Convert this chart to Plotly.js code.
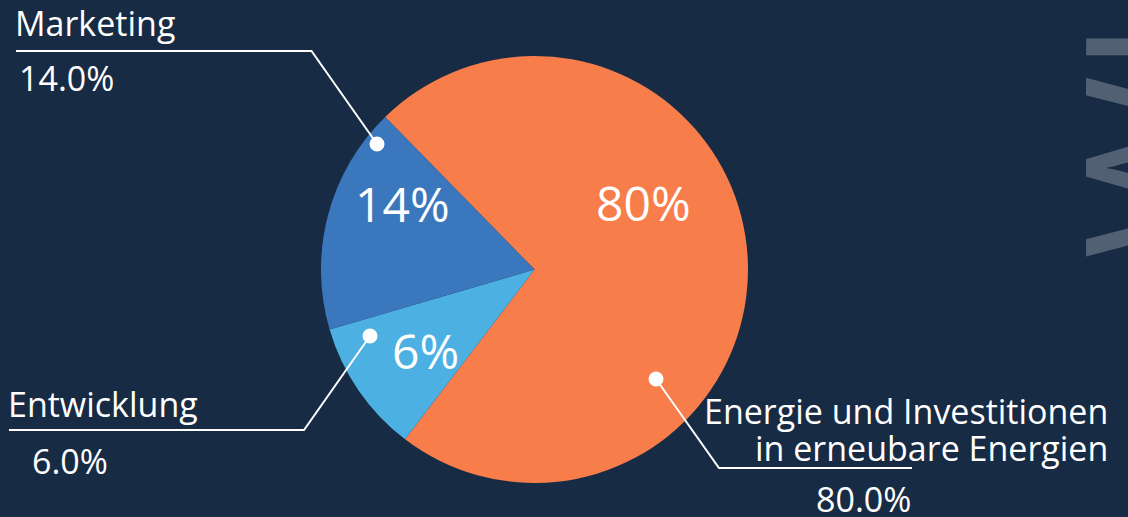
<!DOCTYPE html>
<html>
<head>
<meta charset="utf-8">
<script src="https://cdn.plot.ly/plotly-3.0.1.min.js"></script>
<style>
  html, body { margin: 0; padding: 0; background: #182b44; }
  #chart { width: 1128px; height: 517px; }
</style>
</head>
<body>
<div id="chart"></div>
<script>
// ---- data ----
const categories = ['Energie und Investitionen<br>in erneubare Energien', 'Entwicklung', 'Marketing'];
const sharePercent = [80, 6, 14];            // percentages printed on the chart
const sliceSizes = [72.7, 10.1, 17.2];       // slice sizes as drawn in the picture
const sliceColors = ['#f77d4b', '#4cb1e2', '#3b77bd'];
const watermarkText = 'WI';

// ---- layout helpers (pixel -> paper) ----
const W = 1128, H = 517;
const px = x => x / W;
const py = y => 1 - y / H;
const FONT = '"Open Sans", "Noto Sans", sans-serif';
const WHITE = '#ffffff';

// positions of the labels / leader lines (styling, in pixels)
const insidePos = [[643, 202], [425, 350], [403, 204]];
const labelPos = [
  { lines: [[1110, 411], [1110, 447.5]], anchor: 'right', pct: [863, 498.5], pctAnchor: 'center',
    leader: [[656, 379], [719, 468], [912, 468]] },
  { lines: [[6, 404]], anchor: 'left', pct: [30, 460.5], pctAnchor: 'left',
    leader: [[370, 336], [304, 430], [9, 430]] },
  { lines: [[13, 23.5]], anchor: 'left', pct: [17, 78], pctAnchor: 'left',
    leader: [[377, 144], [311.5, 51], [16, 51]] }
];

const trace = {
  type: 'pie',
  labels: categories,
  values: sliceSizes,
  sort: false,
  direction: 'clockwise',
  rotation: -44.4,
  marker: { colors: sliceColors, line: { width: 0 } },
  textinfo: 'none',
  hoverinfo: 'none',
  showlegend: false,
  domain: { x: [px(321), px(748)], y: [py(483), py(56)] }
};

const annotations = [];
const shapes = [];

categories.forEach((cat, i) => {
  // percentage inside the slice
  annotations.push({
    xref: 'paper', yref: 'paper', x: px(insidePos[i][0]), y: py(insidePos[i][1]),
    xanchor: 'center', yanchor: 'middle', showarrow: false,
    text: sharePercent[i] + '%',
    font: { family: FONT, size: 48, color: WHITE }
  });
  // category name (one annotation per line)
  const lines = cat.split('<br>');
  const lp = labelPos[i];
  lines.forEach((ln, k) => {
    annotations.push({
      xref: 'paper', yref: 'paper', x: px(lp.lines[k][0]), y: py(lp.lines[k][1]),
      xanchor: lp.anchor, yanchor: 'middle', showarrow: false,
      text: ln,
      font: { family: FONT, size: 34, color: WHITE }
    });
  });
  // percentage with one decimal
  annotations.push({
    xref: 'paper', yref: 'paper', x: px(lp.pct[0]), y: py(lp.pct[1]),
    xanchor: lp.pctAnchor, yanchor: 'middle', showarrow: false,
    text: sharePercent[i].toFixed(1) + '%',
    font: { family: FONT, size: 34, color: WHITE }
  });
  // leader line
  const pts = lp.leader;
  shapes.push({
    type: 'path', xref: 'paper', yref: 'paper',
    path: 'M ' + pts.map(p => px(p[0]) + ',' + py(p[1])).join(' L '),
    line: { color: WHITE, width: 2 }
  });
  // dot
  const r = 7.5;
  shapes.push({
    type: 'circle', xref: 'paper', yref: 'paper',
    x0: px(pts[0][0] - r), x1: px(pts[0][0] + r),
    y0: py(pts[0][1] + r), y1: py(pts[0][1] - r),
    fillcolor: WHITE, line: { width: 0 }
  });
});

// faint rotated watermark at the right edge
annotations.push({
  xref: 'paper', yref: 'paper', x: px(1151), y: py(139.5),
  xanchor: 'center', yanchor: 'middle', showarrow: false,
  text: watermarkText, textangle: -90,
  font: { family: FONT, size: 200, color: 'rgba(255,255,255,0.25)' }
});

const layout = {
  width: W, height: H,
  margin: { l: 0, r: 0, t: 0, b: 0 },
  paper_bgcolor: '#182b44',
  plot_bgcolor: '#182b44',
  showlegend: false,
  annotations: annotations,
  shapes: shapes
};

Plotly.newPlot('chart', [trace], layout, { displayModeBar: false, staticPlot: true });
</script>
</body>
</html>
